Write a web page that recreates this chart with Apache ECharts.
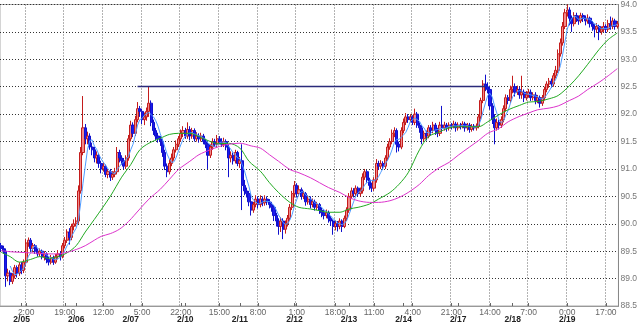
<!DOCTYPE html>
<html><head><meta charset="utf-8">
<script src="https://cdn.jsdelivr.net/npm/echarts@6/dist/echarts.min.js"></script>
<style>html,body{margin:0;padding:0;background:#fff}#c{width:640px;height:324px}</style>
</head><body><div id="c"></div>
<script>
// hourly OHLC rows: [open, close, low, high]
const ohlc = [
[89.60,89.55,89.50,89.65],[89.55,89.50,89.45,89.60],[89.50,89.05,88.85,89.55],[89.05,89.10,88.95,89.18],
[89.10,88.95,88.88,89.15],[88.95,89.05,88.90,89.10],[89.05,89.20,89.00,89.25],[89.20,89.10,89.02,89.24],
[89.10,89.25,89.05,89.30],[89.25,89.15,89.08,89.30],[89.15,89.30,89.10,89.35],[89.30,89.65,89.22,89.72],
[89.65,89.70,89.58,89.75],[89.70,89.55,89.50,89.74],[89.55,89.60,89.48,89.65],[89.60,89.50,89.45,89.63],
[89.50,89.45,89.40,89.55],[89.45,89.50,89.40,89.55],[89.50,89.40,89.35,89.53],[89.40,89.45,89.33,89.50],
[89.45,89.35,89.28,89.48],[89.35,89.30,89.24,89.40],[89.30,89.38,89.26,89.43],[89.38,89.30,89.25,89.42],
[89.30,89.40,89.27,89.45],[89.40,89.45,89.35,89.52],[89.45,89.40,89.33,89.50],[89.40,89.60,89.37,89.65],
[89.60,89.70,89.55,89.76],[89.70,89.85,89.65,89.90],[89.85,89.75,89.62,89.92],[89.75,89.95,89.70,90.00],
[89.95,90.00,89.88,90.08],[90.00,90.05,89.95,90.12],[90.05,90.60,90.00,90.70],[90.60,91.30,90.55,91.40],
[91.30,91.75,91.25,92.33],[91.75,91.55,91.45,91.82],[91.55,91.60,91.45,91.68],[91.60,91.40,91.35,91.65],
[91.40,91.35,91.25,91.48],[91.35,91.20,91.12,91.40],[91.20,91.25,91.10,91.32],[91.25,91.10,91.02,91.28],
[91.10,91.00,90.92,91.15],[91.00,91.05,90.95,91.12],[91.05,90.90,90.85,91.08],[90.90,90.95,90.83,91.00],
[90.95,90.85,90.78,91.00],[90.85,90.90,90.80,90.96],[90.90,90.95,90.85,91.02],[90.95,91.30,90.90,91.40],
[91.30,91.20,91.12,91.35],[91.20,91.15,91.08,91.25],[91.15,91.05,91.00,91.20],[91.05,91.20,91.00,91.25],
[91.20,91.55,91.15,91.62],[91.55,91.80,91.50,91.88],[91.80,91.65,91.58,91.85],[91.65,91.90,91.60,91.97],
[91.90,92.10,91.85,92.22],[92.10,92.05,91.95,92.15],[92.05,91.90,91.82,92.10],[91.90,91.95,91.80,92.03],
[91.95,92.05,91.88,92.12],[92.05,92.20,91.95,92.50],[92.20,91.85,91.78,92.25],[91.85,91.70,91.62,91.90],
[91.70,91.60,91.52,91.75],[91.60,91.55,91.48,91.66],[91.55,91.50,91.42,91.60],[91.50,91.30,91.22,91.55],
[91.30,91.05,90.98,91.35],[91.05,90.95,90.85,91.10],[90.95,91.10,90.90,91.18],[91.10,91.20,91.05,91.28],
[91.20,91.35,91.15,91.40],[91.35,91.45,91.30,91.52],[91.45,91.55,91.40,91.60],[91.55,91.65,91.50,91.72],
[91.65,91.70,91.58,91.78],[91.70,91.60,91.55,91.75],[91.60,91.72,91.55,91.85],[91.72,91.60,91.52,91.78],
[91.60,91.70,91.55,91.75],[91.70,91.55,91.50,91.74],[91.55,91.60,91.50,91.67],[91.60,91.55,91.48,91.65],
[91.55,91.60,91.50,91.66],[91.60,91.50,91.45,91.64],[91.50,91.45,91.38,91.55],[91.45,91.25,91.00,91.50],
[91.25,91.40,91.20,91.45],[91.40,91.50,91.35,91.56],[91.50,91.45,91.40,91.55],[91.45,91.55,91.40,91.62],
[91.55,91.50,91.45,91.60],[91.50,91.45,91.40,91.56],[91.45,91.50,91.40,91.57],[91.50,91.40,91.34,91.54],
[91.40,91.20,90.85,91.45],[91.20,91.25,91.12,91.32],[91.25,91.15,91.08,91.30],[91.15,91.30,91.10,91.35],
[91.30,91.10,91.05,91.33],[91.10,91.15,91.02,91.22],[91.15,90.70,90.25,91.45],[90.70,90.60,90.52,90.80],
[90.60,90.55,90.48,90.66],[90.55,90.40,90.32,90.60],[90.40,90.25,90.15,90.45],[90.25,90.35,90.20,90.40],
[90.35,90.45,90.30,90.52],[90.45,90.35,90.28,90.50],[90.35,90.45,90.30,90.52],[90.45,90.38,90.32,90.50],
[90.38,90.45,90.33,90.52],[90.45,90.40,90.34,90.50],[90.40,90.35,90.28,90.45],[90.35,90.30,90.22,90.40],
[90.30,90.15,90.05,90.34],[90.15,90.05,89.95,90.20],[90.05,89.95,89.80,90.10],[89.95,90.05,89.85,90.12],
[90.05,89.90,89.72,90.10],[89.90,90.00,89.82,90.06],[90.00,90.10,89.95,90.16],[90.10,90.30,90.05,90.36],
[90.30,90.55,90.25,90.60],[90.55,90.70,90.48,90.78],[90.70,90.55,90.48,90.74],[90.55,90.62,90.50,90.70],
[90.62,90.50,90.44,90.66],[90.50,90.55,90.45,90.60],[90.55,90.40,90.33,90.58],[90.40,90.45,90.35,90.52],
[90.45,90.35,90.28,90.50],[90.35,90.40,90.30,90.46],[90.40,90.30,90.24,90.44],[90.30,90.35,90.25,90.40],
[90.35,90.25,90.18,90.38],[90.25,90.20,90.12,90.30],[90.20,90.15,90.08,90.25],[90.15,90.20,90.10,90.26],
[90.20,90.10,90.02,90.24],[90.10,90.05,89.96,90.14],[90.05,89.95,89.80,90.08],[89.95,90.00,89.88,90.06],
[90.00,89.95,89.86,90.05],[89.95,90.05,89.90,90.10],[90.05,89.95,89.85,90.08],[89.95,90.10,89.92,90.15],
[90.10,90.25,90.05,90.30],[90.25,90.50,90.20,90.56],[90.50,90.60,90.45,90.66],[90.60,90.55,90.48,90.65],
[90.55,90.65,90.50,90.70],[90.65,90.55,90.50,90.68],[90.55,90.60,90.50,90.66],[90.60,90.85,90.55,90.92],
[90.85,90.95,90.80,91.00],[90.95,90.80,90.75,90.98],[90.80,90.70,90.62,90.84],[90.70,90.65,90.58,90.75],
[90.65,90.80,90.60,90.85],[90.80,91.10,90.75,91.18],[91.10,91.05,90.98,91.15],[91.05,91.10,91.00,91.16],
[91.10,91.05,90.98,91.14],[91.05,91.20,91.00,91.25],[91.20,91.40,91.15,91.46],[91.40,91.50,91.35,91.56],
[91.50,91.65,91.45,91.72],[91.65,91.70,91.58,91.76],[91.70,91.45,91.30,91.74],[91.45,91.40,91.32,91.50],
[91.40,91.70,91.36,91.76],[91.70,91.85,91.65,91.92],[91.85,91.95,91.80,92.02],[91.95,91.90,91.84,92.00],
[91.90,91.95,91.85,92.00],[91.95,91.85,91.80,91.98],[91.85,92.00,91.80,92.10],[92.00,91.80,91.75,92.04],
[91.80,91.75,91.66,91.85],[91.75,91.55,91.45,91.80],[91.55,91.65,91.50,91.70],[91.65,91.60,91.52,91.70],
[91.60,91.75,91.56,91.80],[91.75,91.70,91.62,91.80],[91.70,91.80,91.65,91.86],[91.80,91.70,91.62,91.84],
[91.70,91.65,91.58,91.75],[91.65,91.80,91.60,91.86],[91.80,91.75,91.68,92.15],[91.75,91.80,91.70,91.86],
[91.80,91.75,91.68,91.84],[91.75,91.80,91.70,91.85],[91.80,91.78,91.72,91.84],[91.78,91.82,91.74,91.88],
[91.82,91.75,91.68,91.86],[91.75,91.80,91.70,91.85],[91.80,91.78,91.72,91.84],[91.78,91.82,91.74,91.87],
[91.82,91.75,91.68,91.86],[91.75,91.80,91.70,91.84],[91.80,91.72,91.66,91.84],[91.72,91.78,91.68,91.82],
[91.78,91.75,91.70,91.82],[91.75,91.78,91.70,91.83],[91.78,91.95,91.74,92.00],[91.95,92.25,91.90,92.30],
[92.25,92.55,92.20,92.62],[92.55,92.50,92.42,92.72],[92.50,92.45,92.38,92.58],[92.45,92.15,92.08,92.50],
[92.15,91.90,91.82,92.20],[91.90,91.75,91.45,92.00],[91.75,91.85,91.70,91.92],[91.85,91.80,91.72,91.90],
[91.80,91.90,91.75,91.96],[91.90,92.10,91.85,92.16],[92.10,92.30,92.05,92.36],[92.30,92.25,92.18,92.35],
[92.25,92.45,92.20,92.52],[92.45,92.50,92.38,92.70],[92.50,92.40,92.32,92.56],[92.40,92.45,92.35,92.52],
[92.45,92.35,92.28,92.50],[92.35,92.40,92.28,92.70],[92.40,92.30,92.22,92.45],[92.30,92.35,92.25,92.42],
[92.35,92.40,92.30,92.46],[92.40,92.30,92.24,92.45],[92.30,92.35,92.25,92.40],[92.35,92.25,92.18,92.40],
[92.25,92.30,92.20,92.35],[92.30,92.20,92.12,92.34],[92.20,92.30,92.15,92.35],[92.30,92.45,92.25,92.50],
[92.45,92.55,92.40,92.60],[92.55,92.60,92.48,92.66],[92.60,92.55,92.48,92.65],[92.55,92.70,92.50,92.75],
[92.70,92.80,92.65,92.88],[92.80,93.10,92.75,93.18],[93.10,93.30,93.05,93.38],[93.30,93.60,93.25,93.68],
[93.60,93.85,93.55,93.92],[93.85,93.90,93.78,94.00],[93.90,93.75,93.62,93.95],[93.75,93.65,93.50,93.80],
[93.65,93.80,93.60,93.86],[93.80,93.75,93.68,93.85],[93.75,93.70,93.63,93.80],[93.70,93.80,93.66,93.85],
[93.80,93.75,93.68,93.84],[93.75,93.70,93.62,93.80],[93.70,93.75,93.65,93.82],[93.75,93.65,93.58,93.78],
[93.65,93.60,93.52,93.70],[93.60,93.55,93.40,93.64],[93.55,93.60,93.48,93.66],[93.60,93.50,93.35,93.63],
[93.50,93.55,93.45,93.60],[93.55,93.60,93.50,93.68],[93.60,93.55,93.48,93.64],[93.55,93.65,93.50,93.72],
[93.65,93.60,93.54,93.78],[93.60,93.70,93.55,93.76],[93.70,93.60,93.54,93.74],[93.60,93.65,93.56,93.70]
];

// medium moving average (green), read at sample candle indices
const maMidIdx = [0,4,8,13,17,21,25,29,33,37,41,48,53,57,61,65,70,74,78,83,87,92,96,100,105,109,114,118,122,127,131,136,140,144,149,153,157,162,166,171,175,179,184,188,193,197,201,206,210,214,219,223,228,232,236,241,245,250,254,258,263,267,271];
const maMidVal = [89.48,89.40,89.30,89.35,89.40,89.37,89.40,89.47,89.60,89.85,90.08,90.50,90.85,91.08,91.35,91.47,91.56,91.63,91.65,91.65,91.59,91.50,91.46,91.47,91.38,91.14,90.96,90.75,90.57,90.39,90.30,90.27,90.24,90.21,90.21,90.27,90.30,90.36,90.45,90.57,90.72,90.93,91.35,91.59,91.68,91.75,91.77,91.77,91.77,91.86,91.99,92.08,92.16,92.22,92.23,92.28,92.34,92.52,92.70,92.91,93.18,93.36,93.48];

// long moving average (magenta)
const maLongIdx = [0,4,8,17,21,25,29,33,37,41,44,48,52,56,61,65,70,74,78,83,87,92,96,100,105,110,114,118,122,127,131,136,140,144,149,153,157,162,166,171,175,179,184,188,193,197,201,206,210,214,219,223,228,232,236,241,245,250,254,258,263,267,271];
const maLongVal = [89.51,89.49,89.48,89.46,89.45,89.45,89.48,89.53,89.60,89.70,89.77,89.82,89.90,90.04,90.27,90.45,90.63,90.81,90.99,91.14,91.26,91.35,91.41,91.45,91.47,91.42,91.38,91.26,91.14,90.99,90.93,90.84,90.75,90.66,90.57,90.48,90.42,90.39,90.39,90.42,90.48,90.57,90.72,90.88,91.03,91.12,91.25,91.40,91.52,91.65,91.74,91.86,91.96,92.02,92.08,92.11,92.15,92.25,92.33,92.45,92.58,92.70,92.83];

const shortPeriod = 5;           // light-blue short average of closes
const resistLevel = 92.5;        // horizontal line
const resistFrom = 60, resistTo = 213;

const timeTickIdx = [11,28,45,62,79,96,113,130,147,164,181,198,215,232,249,266];
const timeTickLabels = ['2:00','19:00','12:00','5:00','22:00','15:00','8:00','1:00','18:00','11:00','4:00','21:00','14:00','7:00','0:00','17:00'];
const dateTickIdx = [9,33,57,81,105,129,153,177,201,225,249];
const dateTickLabels = ['2/05','2/06','2/07','2/10','2/11','2/12','2/13','2/14','2/17','2/18','2/19'];

const yMin = 88.5, yMax = 94.0, yStep = 0.5;

const N = ohlc.length;
const cats = ohlc.map((d, i) => String(i));
function sparse(idx, val) {
  const a = new Array(N).fill(null);
  idx.forEach((k, j) => { a[k] = val[j]; });
  return a;
}
const closes = ohlc.map(d => d[1]);
const shortMA = closes.map((c, i) => {
  if (i < shortPeriod - 1) return null;
  let s = 0; for (let k = i - shortPeriod + 1; k <= i; k++) s += closes[k];
  return +(s / shortPeriod).toFixed(3);
});

const chart = echarts.init(document.getElementById('c'), null, {renderer: 'canvas'});
const font = 'Liberation Sans, Arial, sans-serif';
chart.setOption({
  animation: false,
  backgroundColor: '#fff',
  grid: {left: 0, right: 20, top: 4, bottom: 17, show: true, borderColor: '#aaa', borderWidth: 1},
  xAxis: [{
    type: 'category', data: cats, boundaryGap: true, gridIndex: 0,
    axisLine: {lineStyle: {color: '#999'}},
    axisTick: {show: true, inside: true, length: 3, alignWithLabel: true, interval: (i) => timeTickIdx.includes(i), lineStyle: {color: '#666'}},
    axisLabel: {interval: (i) => timeTickIdx.includes(i), formatter: (v, i) => timeTickLabels[timeTickIdx.indexOf(i)] || '', color: '#666', fontSize: 8.5, fontFamily: font, margin: 2},
    splitLine: {show: true, interval: (i) => timeTickIdx.includes(i), lineStyle: {color: '#666', type: [1, 2], width: 1}}
  }, {
    type: 'category', data: cats, boundaryGap: true, gridIndex: 0, position: 'bottom',
    axisLine: {show: false},
    axisTick: {show: true, inside: true, length: 3, alignWithLabel: true, interval: (i) => dateTickIdx.includes(i), lineStyle: {color: '#666'}},
    axisLabel: {interval: (i) => dateTickIdx.includes(i), formatter: (v, i) => dateTickLabels[dateTickIdx.indexOf(i)] || '', color: '#222', fontSize: 8.5, fontWeight: 'bold', fontFamily: font, margin: 9},
    splitLine: {show: false}
  }],
  yAxis: {
    type: 'value', position: 'right', min: yMin, max: yMax, interval: yStep, scale: true,
    axisLine: {show: true, lineStyle: {color: '#888'}},
    axisTick: {show: false},
    axisLabel: {color: '#777', fontSize: 8.5, fontFamily: font, margin: 2, formatter: v => v.toFixed(1)},
    splitLine: {show: true, lineStyle: {color: '#333', type: [1, 2], width: 1}}
  },
  series: [{
    type: 'candlestick', data: ohlc, barWidth: 2.6,
    itemStyle: {color: '#f08a8a', color0: '#1a1aee', borderColor: '#c41c1c', borderColor0: '#1010cc', borderWidth: 1},
    markLine: {
      silent: true, symbol: 'none', label: {show: false},
      lineStyle: {color: '#2a2a7a', type: 'solid', width: 1.3},
      data: [[{coord: [String(resistFrom), resistLevel]}, {coord: [String(resistTo), resistLevel]}]]
    }
  }, {
    type: 'line', data: shortMA, symbol: 'none', lineStyle: {color: '#4f9cff', width: 1}, z: 3
  }, {
    type: 'line', data: sparse(maMidIdx, maMidVal), connectNulls: true, smooth: 0.3, symbol: 'none', lineStyle: {color: '#22aa22', width: 1}, z: 3
  }, {
    type: 'line', data: sparse(maLongIdx, maLongVal), connectNulls: true, smooth: 0.3, symbol: 'none', lineStyle: {color: '#dd33cc', width: 1}, z: 3
  }]
});
</script></body></html>
